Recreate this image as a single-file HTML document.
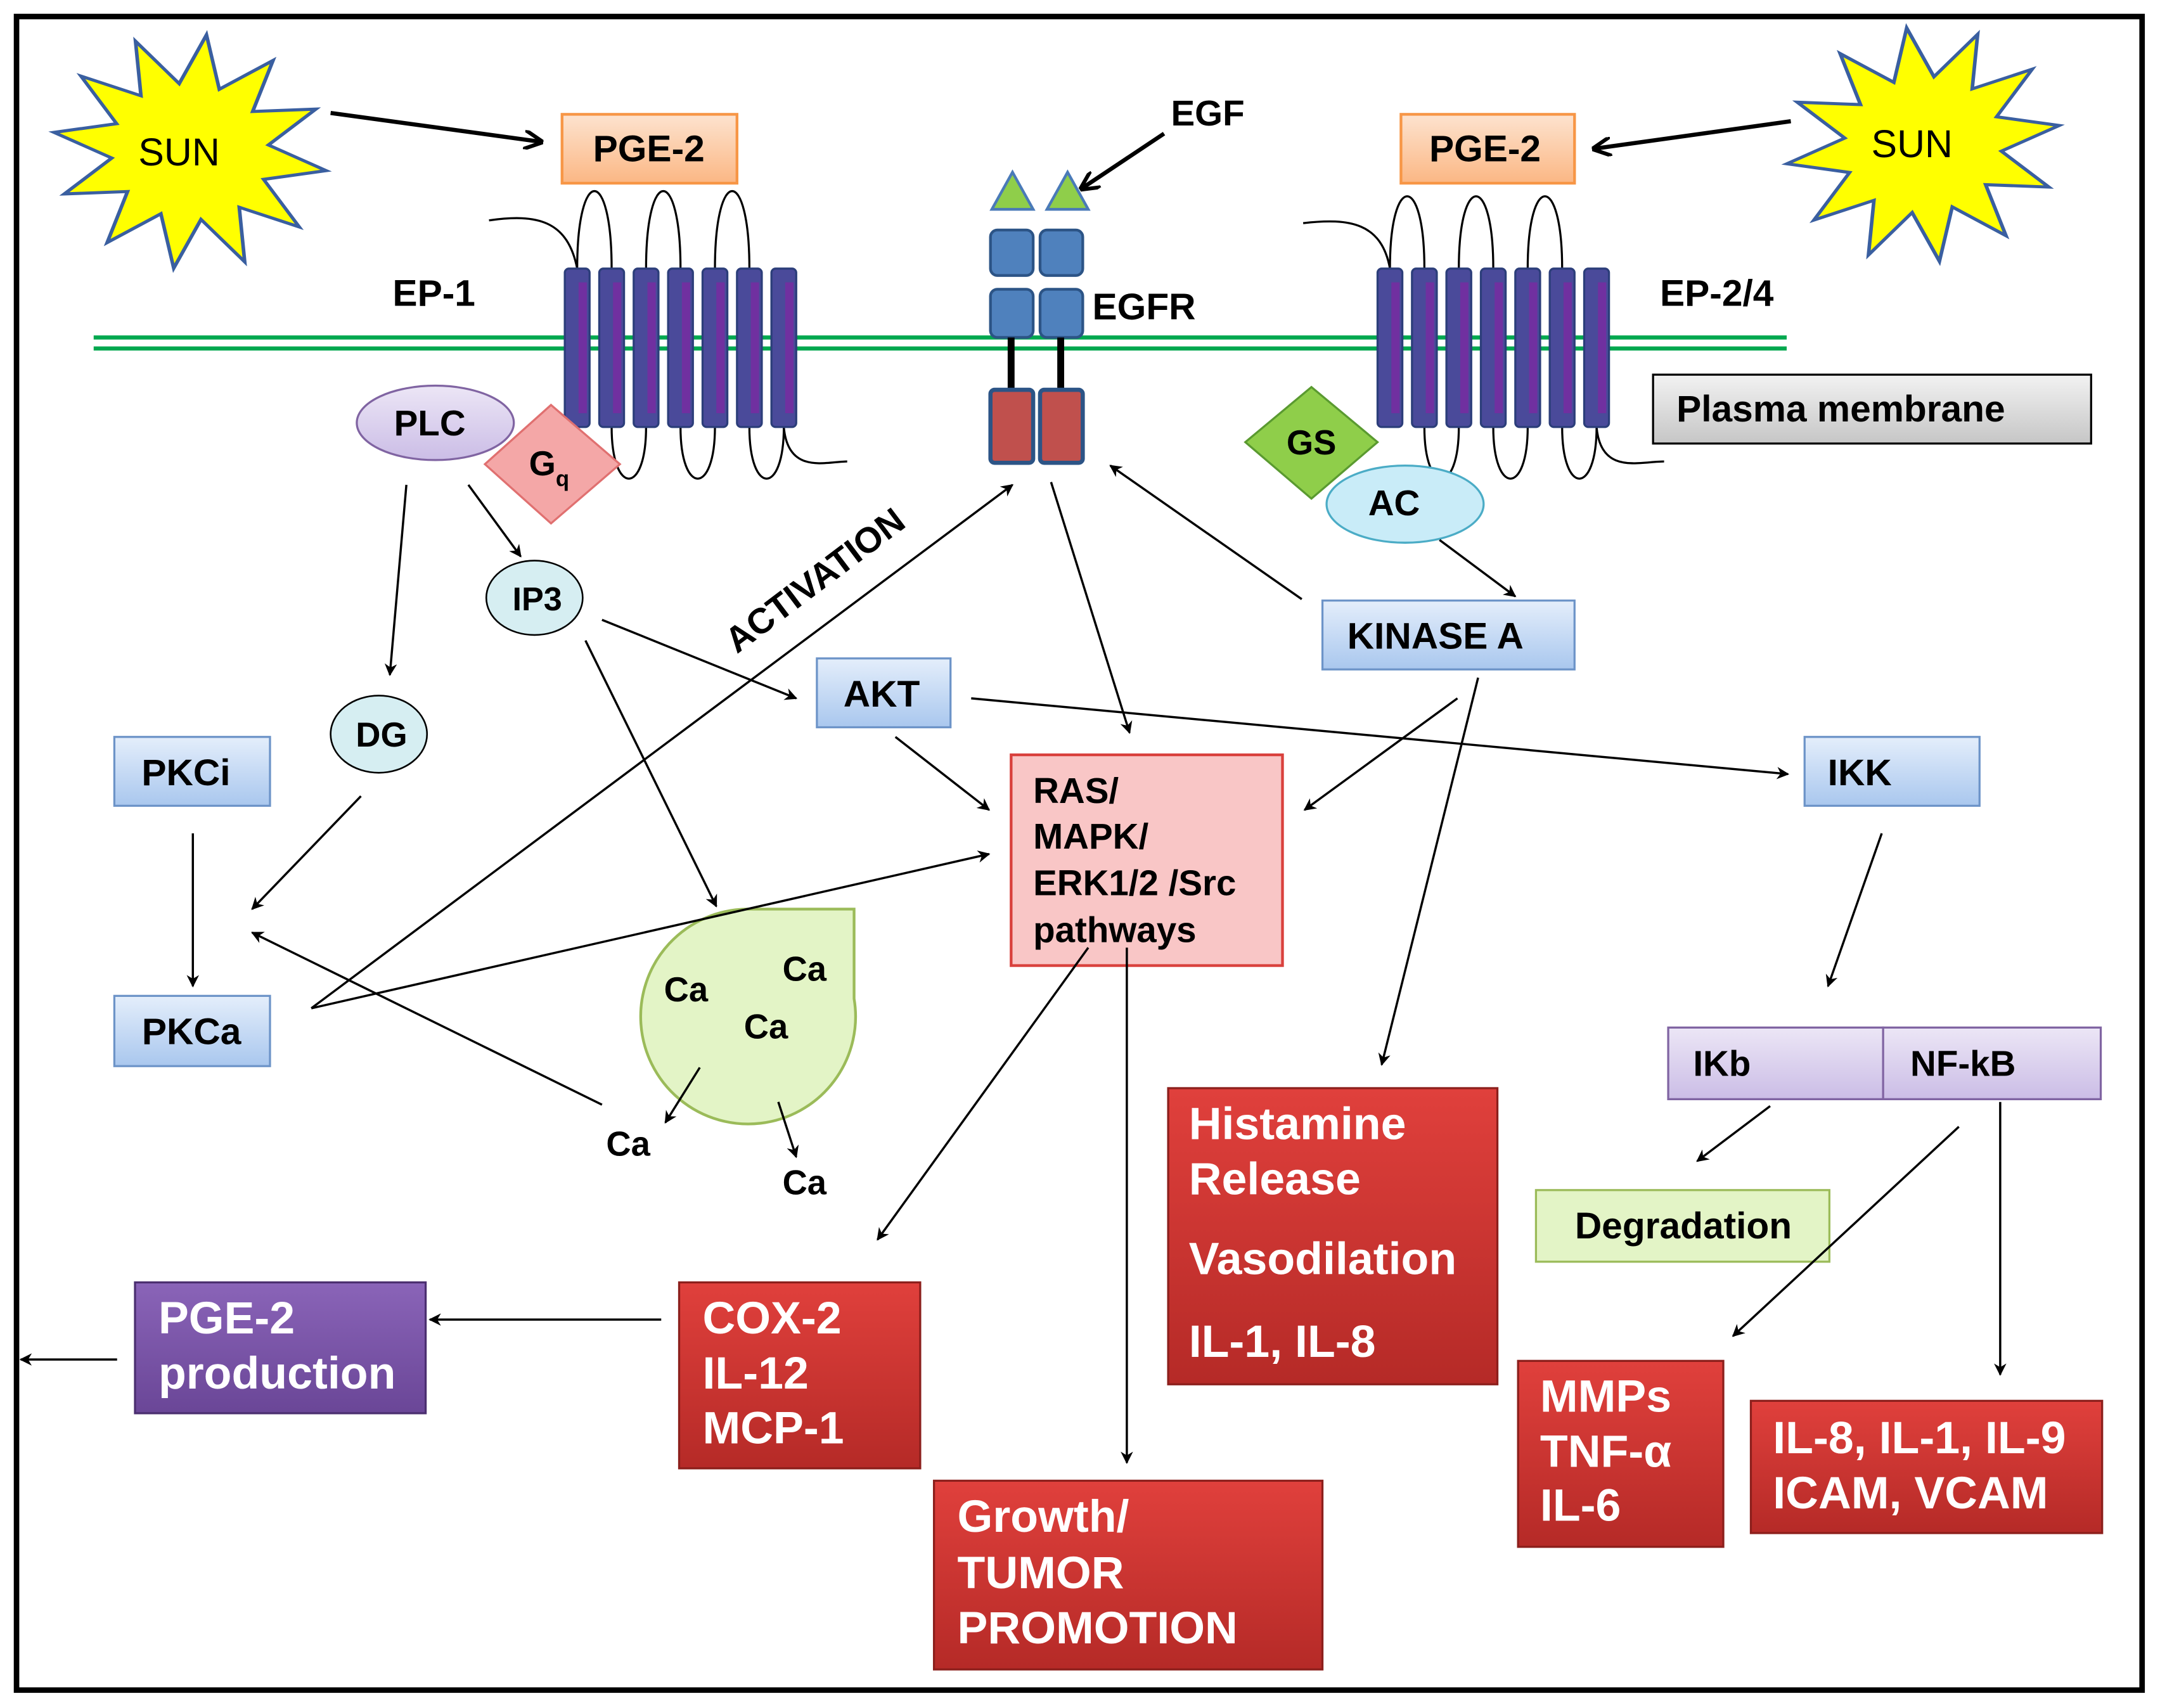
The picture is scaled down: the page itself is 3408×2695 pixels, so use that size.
<!DOCTYPE html>
<html><head><meta charset="utf-8"><style>
html,body{margin:0;padding:0;background:#fff;}
svg{display:block;}
text{font-family:"Liberation Sans",sans-serif;font-weight:bold;}
</style></head><body>
<svg width="3408" height="2695" viewBox="0 0 1568 1240" preserveAspectRatio="none" xmlns="http://www.w3.org/2000/svg">
<defs>
<marker id="a" viewBox="0 0 10 10" refX="9" refY="5" markerWidth="9" markerHeight="9" markerUnits="userSpaceOnUse" orient="auto">
<path d="M0,0 L10,5 L0,10 L3,5 z" fill="#000"/></marker>
<marker id="b" viewBox="0 0 10 10" refX="9" refY="5" markerWidth="14" markerHeight="14" markerUnits="userSpaceOnUse" orient="auto">
<path d="M0,0 L10,5 L0,10" fill="none" stroke="#000" stroke-width="2"/></marker>
<linearGradient id="red" x1="0" y1="0" x2="0" y2="1"><stop offset="0" stop-color="#e0403c"/><stop offset="1" stop-color="#b52a27"/></linearGradient>
<linearGradient id="blue" x1="0" y1="0" x2="0" y2="1"><stop offset="0" stop-color="#e4eefb"/><stop offset="1" stop-color="#a9c7ee"/></linearGradient>
<linearGradient id="org" x1="0" y1="0" x2="0" y2="1"><stop offset="0" stop-color="#fde3cf"/><stop offset="1" stop-color="#fbb784"/></linearGradient>
<linearGradient id="gray" x1="0" y1="0" x2="0" y2="1"><stop offset="0" stop-color="#f2f2f2"/><stop offset="1" stop-color="#c6c6c6"/></linearGradient>
<linearGradient id="lav" x1="0" y1="0" x2="0" y2="1"><stop offset="0" stop-color="#ece6f6"/><stop offset="1" stop-color="#cbbde6"/></linearGradient>
<linearGradient id="pur" x1="0" y1="0" x2="0" y2="1"><stop offset="0" stop-color="#8a64b8"/><stop offset="1" stop-color="#6a4697"/></linearGradient>
<polygon id="star" points="95,0 53,14 82,48 39,39 48,82 14,53 0,95 -14,53 -48,82 -39,39 -82,48 -53,14 -95,0 -53,-14 -82,-48 -39,-39 -48,-82 -14,-53 0,-95 14,-53 48,-82 39,-39 82,-48 53,-14"/>
</defs>
<rect x="12" y="12" width="1543" height="1215" fill="#fff" stroke="#000" stroke-width="4"/>

<use href="#star" transform="translate(138,110) rotate(8) scale(1.05,0.9)" fill="#ffff00" stroke="#3a5fa0" stroke-width="2.5"/>
<text x="130" y="120" font-size="28" text-anchor="middle" style="font-weight:normal">SUN</text>
<use href="#star" transform="translate(1396,105) rotate(-8) scale(1.05,0.9)" fill="#ffff00" stroke="#3a5fa0" stroke-width="2.5"/>
<text x="1388" y="114" font-size="28" text-anchor="middle" style="font-weight:normal">SUN</text>

<rect x="408" y="83" width="127" height="50" fill="url(#org)" stroke="#f79646" stroke-width="2"/>
<text x="471" y="117" font-size="27" text-anchor="middle">PGE-2</text>
<rect x="1017" y="83" width="126" height="50" fill="url(#org)" stroke="#f79646" stroke-width="2"/>
<text x="1078" y="117" font-size="27" text-anchor="middle">PGE-2</text>

<line x1="240" y1="82" x2="393" y2="103" stroke="#000" stroke-width="3" marker-end="url(#b)"/>
<line x1="1300" y1="88" x2="1157" y2="108" stroke="#000" stroke-width="3" marker-end="url(#b)"/>
<text x="850" y="91" font-size="26">EGF</text>
<line x1="845" y1="97" x2="785" y2="137" stroke="#000" stroke-width="3" marker-end="url(#b)"/>

<line x1="68" y1="245" x2="1297" y2="245" stroke="#00a84f" stroke-width="3"/>
<line x1="68" y1="253" x2="1297" y2="253" stroke="#00a84f" stroke-width="3"/>

<polygon points="735,125 720,152 750,152" fill="#8fce4a" stroke="#4a7ab8" stroke-width="2"/>
<polygon points="775,125 760,152 790,152" fill="#8fce4a" stroke="#4a7ab8" stroke-width="2"/>
<g fill="#4f81bd" stroke="#2c5486" stroke-width="2">
<rect x="719" y="167" width="31" height="33" rx="5"/><rect x="755" y="167" width="31" height="33" rx="5"/>
<rect x="719" y="210" width="31" height="35" rx="5"/><rect x="755" y="210" width="31" height="35" rx="5"/>
</g>
<line x1="734" y1="245" x2="734" y2="283" stroke="#000" stroke-width="5"/>
<line x1="770" y1="245" x2="770" y2="283" stroke="#000" stroke-width="5"/>
<g fill="#c0504d" stroke="#2c5486" stroke-width="3">
<rect x="719" y="283" width="31" height="53" rx="3"/><rect x="755" y="283" width="31" height="53" rx="3"/>
</g>
<text x="793" y="232" font-size="27">EGFR</text>
<text x="285" y="222" font-size="27">EP-1</text>
<text x="1205" y="222" font-size="27">EP-2/4</text>

<g fill="none" stroke="#000" stroke-width="1.5">
<path d="M355,160 C390,155 412,160 419,195"/>
<path d="M419,195 C419,120 444,120 444,195"/>
<path d="M469,195 C469,120 494,120 494,195"/>
<path d="M519,195 C519,120 544,120 544,195"/>
<path d="M444,310 C444,360 469,360 469,310"/>
<path d="M494,310 C494,360 519,360 519,310"/>
<path d="M544,310 C544,360 569,360 569,310"/>
<path d="M569,310 C572,345 600,335 615,335"/>
<path d="M946,162 C980,158 1003,162 1009,195"/>
<path d="M1009,195 C1009,125 1034,125 1034,195"/>
<path d="M1059,195 C1059,125 1084,125 1084,195"/>
<path d="M1109,195 C1109,125 1134,125 1134,195"/>
<path d="M1034,310 C1034,360 1059,360 1059,310"/>
<path d="M1084,310 C1084,360 1109,360 1109,310"/>
<path d="M1134,310 C1134,360 1159,360 1159,310"/>
<path d="M1159,310 C1162,345 1190,335 1208,335"/>
</g>
<g fill="#4a4a9a" stroke="#2c3e7a" stroke-width="1.5">
<rect x="410" y="195" width="18" height="115" rx="3"/><rect x="435" y="195" width="18" height="115" rx="3"/><rect x="460" y="195" width="18" height="115" rx="3"/><rect x="485" y="195" width="18" height="115" rx="3"/><rect x="510" y="195" width="18" height="115" rx="3"/><rect x="535" y="195" width="18" height="115" rx="3"/><rect x="560" y="195" width="18" height="115" rx="3"/>
<rect x="1000" y="195" width="18" height="115" rx="3"/><rect x="1025" y="195" width="18" height="115" rx="3"/><rect x="1050" y="195" width="18" height="115" rx="3"/><rect x="1075" y="195" width="18" height="115" rx="3"/><rect x="1100" y="195" width="18" height="115" rx="3"/><rect x="1125" y="195" width="18" height="115" rx="3"/><rect x="1150" y="195" width="18" height="115" rx="3"/>
</g>
<g fill="#7030a0">
<rect x="420" y="205" width="6" height="95"/><rect x="445" y="205" width="6" height="95"/><rect x="470" y="205" width="6" height="95"/><rect x="495" y="205" width="6" height="95"/><rect x="520" y="205" width="6" height="95"/><rect x="545" y="205" width="6" height="95"/><rect x="570" y="205" width="6" height="95"/>
<rect x="1010" y="205" width="6" height="95"/><rect x="1035" y="205" width="6" height="95"/><rect x="1060" y="205" width="6" height="95"/><rect x="1085" y="205" width="6" height="95"/><rect x="1110" y="205" width="6" height="95"/><rect x="1135" y="205" width="6" height="95"/><rect x="1160" y="205" width="6" height="95"/>
</g>

<rect x="1200" y="272" width="318" height="50" fill="url(#gray)" stroke="#000" stroke-width="1.5"/>
<text x="1217" y="306" font-size="27">Plasma membrane</text>

<ellipse cx="316" cy="307" rx="57" ry="27" fill="url(#lav)" stroke="#8064a2" stroke-width="1.5"/>
<text x="312" y="316" font-size="26" text-anchor="middle">PLC</text>
<polygon points="400,294 450,337 400,380 352,337" fill="#f4a7a7" stroke="#e07070" stroke-width="1.5"/>
<text x="384" y="345" font-size="25">G<tspan font-size="16" dy="8">q</tspan></text>
<polygon points="952,281 1000,321 952,362 904,321" fill="#8fce4a" stroke="#5a9a30" stroke-width="1.5"/>
<text x="952" y="330" font-size="25" text-anchor="middle">GS</text>
<ellipse cx="1020" cy="366" rx="57" ry="28" fill="#c9ecf8" stroke="#4bacc6" stroke-width="1.5"/>
<text x="1012" y="374" font-size="26" text-anchor="middle">AC</text>
<ellipse cx="388" cy="434" rx="35" ry="27" fill="#d6eef2" stroke="#000" stroke-width="1.2"/>
<text x="390" y="443" font-size="24" text-anchor="middle">IP3</text>
<ellipse cx="275" cy="533" rx="35" ry="28" fill="#d6eef2" stroke="#000" stroke-width="1.2"/>
<text x="277" y="542" font-size="25" text-anchor="middle">DG</text>

<g fill="url(#blue)" stroke="#6d94c8" stroke-width="1.5">
<rect x="593" y="478" width="97" height="50"/>
<rect x="960" y="436" width="183" height="50"/>
<rect x="1310" y="535" width="127" height="50"/>
<rect x="83" y="535" width="113" height="50"/>
<rect x="83" y="723" width="113" height="51"/>
</g>
<text x="640" y="513" font-size="27" text-anchor="middle">AKT</text>
<text x="1042" y="471" font-size="27" text-anchor="middle">KINASE A</text>
<text x="1350" y="570" font-size="27" text-anchor="middle">IKK</text>
<text x="135" y="570" font-size="27" text-anchor="middle">PKCi</text>
<text x="139" y="758" font-size="27" text-anchor="middle">PKCa</text>

<rect x="734" y="548" width="197" height="153" fill="#f9c6c6" stroke="#d9403c" stroke-width="2"/>
<text font-size="26"><tspan x="750" y="583">RAS/</tspan><tspan x="750" y="616">MAPK/</tspan><tspan x="750" y="650">ERK1/2 /Src</tspan><tspan x="750" y="684">pathways</tspan></text>

<path d="M620,660 L620,725 A78,78 0 1,1 542,660 Z" fill="#e3f4c6" stroke="#9bbb59" stroke-width="2"/>
<text x="498" y="727" font-size="25" text-anchor="middle">Ca</text>
<text x="584" y="712" font-size="25" text-anchor="middle">Ca</text>
<text x="556" y="754" font-size="25" text-anchor="middle">Ca</text>
<text x="456" y="839" font-size="25" text-anchor="middle">Ca</text>
<text x="584" y="867" font-size="25" text-anchor="middle">Ca</text>

<text transform="translate(535,475) rotate(-37)" font-size="26">ACTIVATION</text>

<rect x="1211" y="746" width="156" height="52" fill="url(#lav)" stroke="#8064a2" stroke-width="1.5"/>
<rect x="1367" y="746" width="158" height="52" fill="url(#lav)" stroke="#8064a2" stroke-width="1.5"/>
<text x="1250" y="781" font-size="26" text-anchor="middle">IKb</text>
<text x="1425" y="781" font-size="26" text-anchor="middle">NF-kB</text>
<rect x="1115" y="864" width="213" height="52" fill="#e3f4c6" stroke="#9bbb59" stroke-width="1.5"/>
<text x="1222" y="899" font-size="27" text-anchor="middle">Degradation</text>

<g fill="url(#red)" stroke="#8c1f1c" stroke-width="1.5">
<rect x="848" y="790" width="239" height="215"/>
<rect x="493" y="931" width="175" height="135"/>
<rect x="678" y="1075" width="282" height="137"/>
<rect x="1102" y="988" width="149" height="135"/>
<rect x="1271" y="1017" width="255" height="96"/>
</g>
<g fill="#fff" font-size="33">
<text x="863" y="827">Histamine</text><text x="863" y="867">Release</text><text x="863" y="925">Vasodilation</text><text x="863" y="985">IL-1, IL-8</text>
<text x="510" y="968">COX-2</text><text x="510" y="1008">IL-12</text><text x="510" y="1048">MCP-1</text>
<text x="695" y="1112">Growth/</text><text x="695" y="1153">TUMOR</text><text x="695" y="1193">PROMOTION</text>
<text x="1118" y="1025">MMPs</text><text x="1118" y="1065">TNF-α</text><text x="1118" y="1104">IL-6</text>
<text x="1287" y="1055">IL-8, IL-1, IL-9</text><text x="1287" y="1095">ICAM, VCAM</text>
</g>
<rect x="98" y="931" width="211" height="95" fill="url(#pur)" stroke="#4b2f70" stroke-width="1.5"/>
<text fill="#fff" font-size="33"><tspan x="115" y="968">PGE-2</tspan><tspan x="115" y="1008">production</tspan></text>

<g stroke="#000" stroke-width="1.6" fill="none" marker-end="url(#a)">
<line x1="295" y1="352" x2="283" y2="490"/>
<line x1="340" y1="352" x2="378" y2="404"/>
<line x1="437" y1="450" x2="578" y2="507"/>
<line x1="425" y1="465" x2="520" y2="658"/>
<line x1="262" y1="578" x2="183" y2="660"/>
<line x1="140" y1="605" x2="140" y2="716"/>
<line x1="437" y1="802" x2="183" y2="677"/>
<line x1="226" y1="732" x2="735" y2="352"/>
<line x1="226" y1="732" x2="718" y2="620"/>
<line x1="650" y1="535" x2="718" y2="588"/>
<line x1="705" y1="507" x2="1298" y2="562"/>
<line x1="763" y1="350" x2="820" y2="532"/>
<line x1="945" y1="435" x2="806" y2="338"/>
<line x1="1045" y1="392" x2="1100" y2="433"/>
<line x1="1058" y1="507" x2="947" y2="588"/>
<line x1="1073" y1="492" x2="1003" y2="773"/>
<line x1="790" y1="688" x2="637" y2="900"/>
<line x1="818" y1="688" x2="818" y2="1062"/>
<line x1="480" y1="958" x2="312" y2="958"/>
<line x1="85" y1="987" x2="15" y2="987"/>
<line x1="1366" y1="605" x2="1327" y2="716"/>
<line x1="1285" y1="803" x2="1232" y2="843"/>
<line x1="1422" y1="818" x2="1258" y2="970"/>
<line x1="1452" y1="800" x2="1452" y2="998"/>
<line x1="508" y1="775" x2="483" y2="815"/>
<line x1="565" y1="800" x2="578" y2="840"/>
</g>
</svg>
</body></html>
